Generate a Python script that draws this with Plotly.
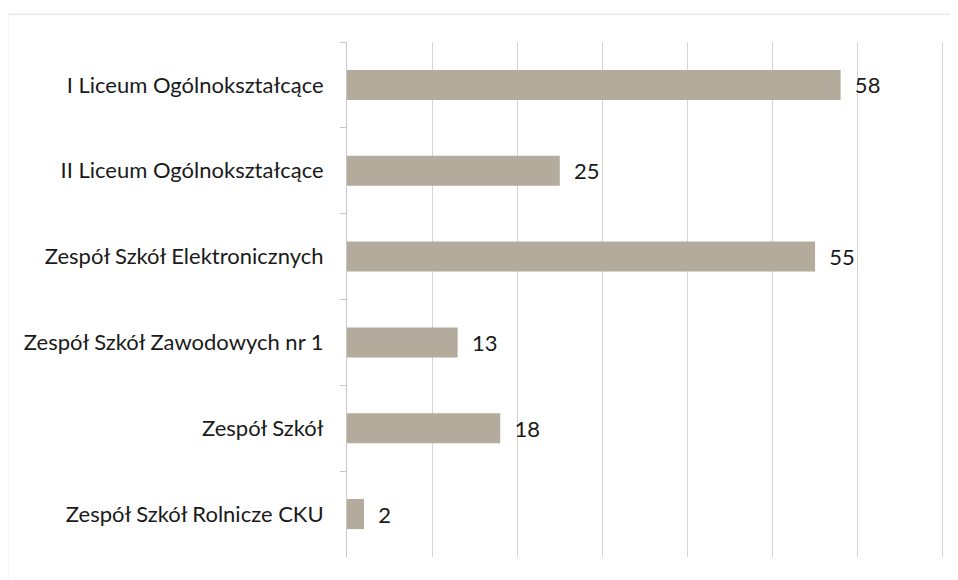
import plotly.graph_objects as go

categories = [
    "I Liceum Ogólnokształcące",
    "II Liceum Ogólnokształcące",
    "Zespół Szkół Elektronicznych",
    "Zespół Szkół Zawodowych nr 1",
    "Zespół Szkół",
    "Zespół Szkół Rolnicze CKU",
]
values = [58, 25, 55, 13, 18, 2]

fig = go.Figure(go.Bar(
    x=values,
    y=categories,
    orientation="h",
    marker=dict(color="#b3ab9b", line=dict(width=0)),
    text=values,
    texttemplate="  %{x}",
    textposition="outside",
    textfont=dict(size=22, color="#1a1a1a", family="Lato"),
    cliponaxis=False,
    width=0.35,
))

fig.update_layout(
    width=950, height=572,
    margin=dict(l=339, r=14, t=34, b=23),
    paper_bgcolor="white", plot_bgcolor="white",
    font=dict(family="Lato", size=22, color="#1a1a1a"),
    showlegend=False,
    xaxis=dict(range=[0, 70.15], tick0=0, dtick=10, showticklabels=False,
               showgrid=True, gridcolor="#d4d4d4", gridwidth=1,
               zeroline=False, showline=False, ticks=""),
    yaxis=dict(autorange="reversed", showline=True, linecolor="#c8c8c8",
               linewidth=1, ticks="outside", ticklen=6, tickcolor="#c8c8c8",
               tickson="boundaries", ticklabelstandoff=18, showgrid=False),
    shapes=[
        dict(type="line", xref="paper", yref="paper", x0=-0.568, x1=1.03,
             y0=1.054, y1=1.054, line=dict(color="#e0e0e0", width=1)),
        dict(type="line", xref="paper", yref="paper", x0=-0.568, x1=-0.568,
             y0=1.054, y1=-0.1, line=dict(color="#e6e6e6", width=1)),
    ],
)

fig.write_html("out.html")
